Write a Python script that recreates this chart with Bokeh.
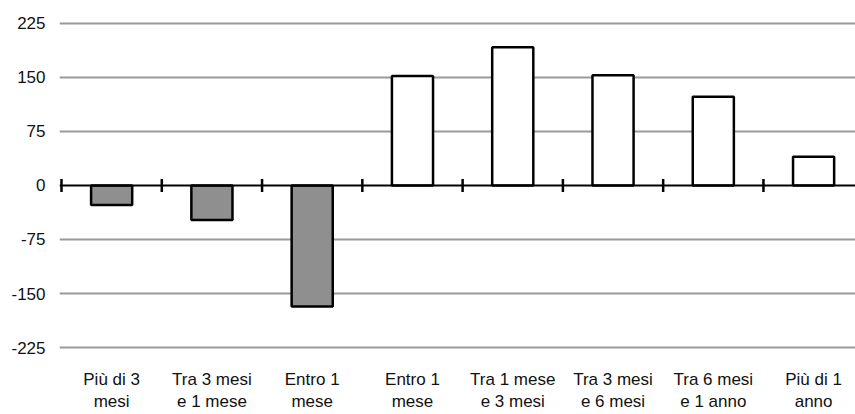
import numpy as np
from bokeh.plotting import figure
from bokeh.models import Range1d, FixedTicker, Span, ColumnDataSource
from bokeh.embed import file_html
from bokeh.resources import INLINE

categories = ["Più di 3\nmesi", "Tra 3 mesi\ne 1 mese", "Entro 1\nmese", "Entro 1\nmese",
              "Tra 1 mese\ne 3 mesi", "Tra 3 mesi\ne 6 mesi", "Tra 6 mesi\ne 1 anno", "Più di 1\nanno"]
values = [-27, -48, -168, 152, 192, 153, 123, 40]
y_ticks = [-225, -150, -75, 0, 75, 150, 225]

FONT = "Liberation Sans"
n = len(categories)
centers = [i + 0.5 for i in range(n)]
colors = ["#8f8f8f" if v < 0 else "#ffffff" for v in values]

p = figure(width=855, height=414, output_backend="svg", toolbar_location=None,
           x_range=Range1d(-0.02, 7.918), y_range=Range1d(-238.8, 249.8),
           min_border_left=59, min_border_right=0, min_border_top=5, min_border_bottom=54)
p.outline_line_color = None
p.background_fill_color = "white"
p.border_fill_color = "white"

p.xgrid.grid_line_color = None
p.ygrid.ticker = FixedTicker(ticks=[t for t in y_ticks if t != 0])
p.ygrid.grid_line_color = "#9a9a9a"
p.ygrid.grid_line_width = 2

# y axis: labels only
p.yaxis.ticker = FixedTicker(ticks=y_ticks)
p.yaxis.major_label_overrides = {t: str(t) for t in y_ticks}
p.yaxis.axis_line_color = None
p.yaxis.major_tick_line_color = None
p.yaxis.minor_tick_line_color = None
p.yaxis.major_tick_out = 0
p.yaxis.major_label_standoff = 14
p.yaxis.major_label_text_font = FONT
p.yaxis.major_label_text_font_size = "17px"
p.yaxis.major_label_text_color = "#111111"

# x axis: category labels only
p.xaxis.ticker = FixedTicker(ticks=centers)
p.xaxis.major_label_overrides = {c: lab for c, lab in zip(centers, categories)}
p.xaxis.axis_line_color = None
p.xaxis.major_tick_line_color = None
p.xaxis.minor_tick_line_color = None
p.xaxis.major_tick_out = 0
p.xaxis.major_label_standoff = 12
p.xaxis.major_label_text_font = FONT
p.xaxis.major_label_text_font_size = "17px"
p.xaxis.major_label_text_color = "#111111"

src = ColumnDataSource(dict(x=centers, top=values, color=colors))
p.vbar(x="x", top="top", bottom=0, width=0.41, source=src,
       fill_color="color", line_color="black", line_width=2.5)

# zero line with category-boundary ticks
p.add_layout(Span(location=0, dimension="width", line_color="black", line_width=2))
bounds = list(range(n + 1))
p.scatter(x=bounds, y=[0] * len(bounds), marker="dash", angle=np.pi / 2, size=13,
          line_color="black", line_width=2.5)

open("out.html", "w").write(file_html(p, INLINE))
